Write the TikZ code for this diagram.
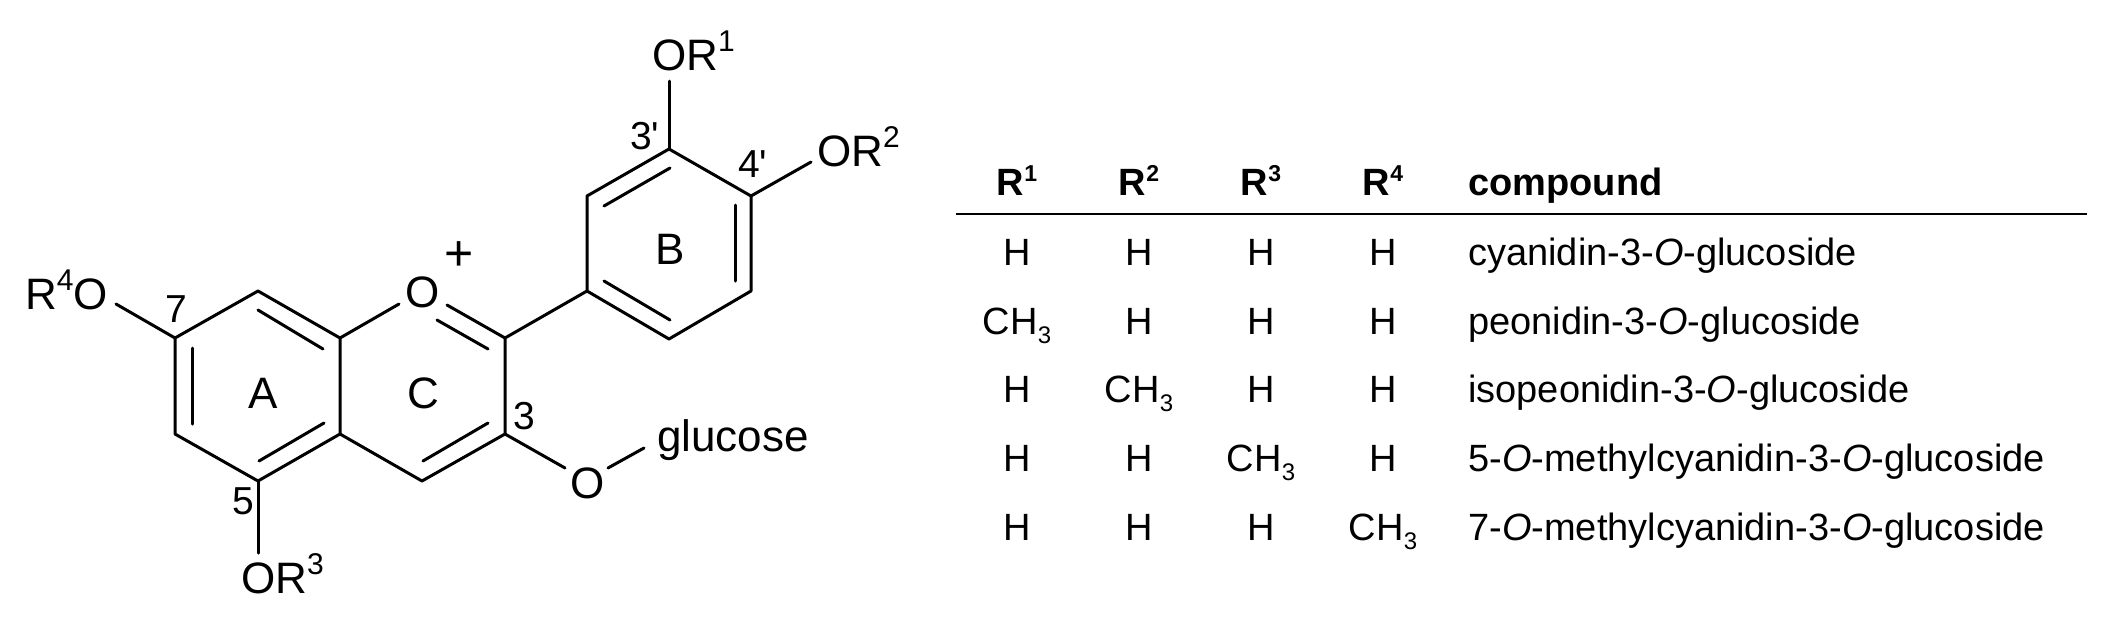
\documentclass[tikz,border=0pt]{standalone}
\usepackage{fontspec}
\setmainfont{Liberation Sans}
\newfontfamily\plainf{Liberation Sans}
\newcommand{\supr}[1]{\raisebox{0.42em}{\fontsize{30}{30}\selectfont #1}}
\newcommand{\subr}{\raisebox{-0.25em}{\fontsize{24}{24}\selectfont 3}}
\newcommand{\hsup}[1]{\raisebox{0.36em}{\fontsize{23}{23}\selectfont #1}}
\tikzset{
  bond/.style={line width=3pt,line cap=round,line join=round},
  atom/.style={inner sep=0pt,font=\fontsize{44}{44}\selectfont},
  lab/.style={atom,anchor=base west},
  num/.style={lab,font=\fontsize{39}{39}\plainf},
  cell/.style={inner sep=0pt,anchor=base,font=\fontsize{38}{38}\selectfont},
  cname/.style={inner sep=0pt,anchor=base west,font=\fontsize{38}{38}\selectfont},
  head/.style={cell,font=\fontsize{38}{38}\selectfont\bfseries},
}
\begin{document}
\begin{tikzpicture}[x=1pt,y=-1pt]
\useasboundingbox (0,0) rectangle (2114,630);
% ring atoms
\coordinate (c7) at (175,338); \coordinate (c8) at (258,291); \coordinate (c8a) at (340,338);
\coordinate (c4a) at (340,434); \coordinate (c5) at (258,481); \coordinate (c6) at (175,434);
\coordinate (c2) at (505,338); \coordinate (c3) at (505,434); \coordinate (c4) at (422,481);
\coordinate (c1p) at (587,291); \coordinate (c2p) at (587,196); \coordinate (c3p) at (669,149);
\coordinate (c4p) at (751,196); \coordinate (c5p) at (751,291); \coordinate (c6p) at (669,339);
% bond ends next to heteroatoms
\coordinate (eR1) at (669,81); \coordinate (eR2) at (811,162); \coordinate (eR4) at (116,304);
\coordinate (eO1a) at (399,304); \coordinate (eO1b) at (447,305); \coordinate (eO1c) at (437,320);
\coordinate (eO1d) at (488,349);
\coordinate (eOg1) at (565,468); \coordinate (eOg2) at (608,468); \coordinate (eOg3) at (644,448);
\coordinate (eR3) at (258,553);
% inner double-bond ends
\coordinate (i1) at (192,348); \coordinate (i2) at (192,424);
\coordinate (i3) at (258,310); \coordinate (i4) at (323,349);
\coordinate (i5) at (324,423); \coordinate (i6) at (259,461);
\coordinate (i7) at (488,423); \coordinate (i8) at (423,461);
\coordinate (i9) at (604,206); \coordinate (i10) at (670,168);
\coordinate (i11) at (735,205); \coordinate (i12) at (735,281);
\coordinate (i13) at (604,281); \coordinate (i14) at (670,320);
% skeleton
\draw[bond] (c7) -- (c8) -- (c8a) -- (c4a) -- (c5) -- (c6) -- cycle;
\draw[bond] (c4a) -- (c4) -- (c3) -- (c2) -- (c1p) -- (c2p) -- (c3p) -- (c4p) -- (c5p) -- (c6p) -- (c1p);
\draw[bond] (c8a) -- (eO1a);
\draw[bond] (c2) -- (eO1b);
\draw[bond] (eO1c) -- (eO1d);
\draw[bond] (c3p) -- (eR1);
\draw[bond] (c4p) -- (eR2);
\draw[bond] (c7) -- (eR4);
\draw[bond] (c5) -- (eR3);
\draw[bond] (c3) -- (eOg1);
\draw[bond] (eOg2) -- (eOg3);
\draw[bond] (i1) -- (i2);
\draw[bond] (i3) -- (i4);
\draw[bond] (i5) -- (i6);
\draw[bond] (i7) -- (i8);
\draw[bond] (i9) -- (i10);
\draw[bond] (i11) -- (i12);
\draw[bond] (i13) -- (i14);
% atom labels
\node[lab] (tOR1) at (652,70) {OR\supr{1}};
\node[lab] (tOR2) at (817,166) {OR\supr{2}};
\node[lab] (tOR3) at (241,593) {OR\supr{3}};
\node[lab] (tOR4) at (25,309) {R\supr{4}O};
\node[lab] (tO1) at (405,307) {O};
\node[lab] (tOg) at (570,498) {O};
\node[lab] (tglc) at (657,451) {glucose};
\node[atom,font=\fontsize{50}{50}\selectfont] (tplus) at (459,256) {+};
\node[lab] (tA) at (248,408) {A};
\node[lab] (tB) at (655,264) {B};
\node[lab] (tC) at (407,408) {C};
\node[num] (n3p) at (630,149) {3'};
\node[num] (n4p) at (738,177) {4'};
\node[num] (n7) at (165,322) {7};
\node[num] (n3) at (513,429) {3};
\node[num] (n5) at (232,514) {5};
% table
\node[head] (h1) at (1017,195) {R\hsup{1}};
\node[head] (h2) at (1139,195) {R\hsup{2}};
\node[head] (h3) at (1261,195) {R\hsup{3}};
\node[head] (h4) at (1383,195) {R\hsup{4}};
\node[cname,font=\fontsize{38}{38}\selectfont\bfseries] (h5) at (1468,195) {compound};
\coordinate (ruleL) at (956,214); \coordinate (ruleR) at (2087,214);
\draw[line width=2.7pt] (ruleL) -- (ruleR);
\node[cell] (a1) at (1017,265) {H}; \node[cell] (a2) at (1139,265) {H}; \node[cell] (a3) at (1261,265) {H}; \node[cell] (a4) at (1383,265) {H};
\node[cname] (a5) at (1468,265) {cyanidin-3-\textit{O}-glucoside};
\node[cell] (b1) at (1017,334) {CH\subr}; \node[cell] (b2) at (1139,334) {H}; \node[cell] (b3) at (1261,334) {H}; \node[cell] (b4) at (1383,334) {H};
\node[cname] (b5) at (1468,334) {peonidin-3-\textit{O}-glucoside};
\node[cell] (c1) at (1017,402) {H}; \node[cell] (c2x) at (1139,402) {CH\subr}; \node[cell] (c3x) at (1261,402) {H}; \node[cell] (c4x) at (1383,402) {H};
\node[cname] (c5x) at (1468,402) {isopeonidin-3-\textit{O}-glucoside};
\node[cell] (d1) at (1017,471) {H}; \node[cell] (d2) at (1139,471) {H}; \node[cell] (d3) at (1261,471) {CH\subr}; \node[cell] (d4) at (1383,471) {H};
\node[cname] (d5) at (1468,471) {5-\textit{O}-methylcyanidin-3-\textit{O}-glucoside};
\node[cell] (e1) at (1017,540) {H}; \node[cell] (e2) at (1139,540) {H}; \node[cell] (e3) at (1261,540) {H}; \node[cell] (e4) at (1383,540) {CH\subr};
\node[cname] (e5) at (1468,540) {7-\textit{O}-methylcyanidin-3-\textit{O}-glucoside};
\end{tikzpicture}
\end{document}
